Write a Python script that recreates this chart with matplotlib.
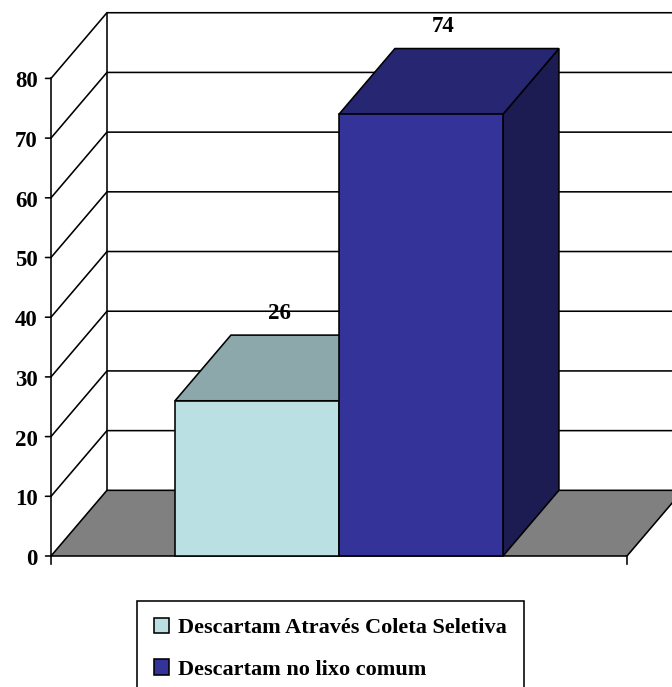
import matplotlib
matplotlib.use("Agg")
import matplotlib.pyplot as plt
from matplotlib.patches import Polygon, Patch
from matplotlib.transforms import offset_copy

plt.rcParams['font.family'] = ['Liberation Serif', 'DejaVu Serif']
plt.rcParams['font.weight'] = 'bold'

series = ['Descartam Através Coleta Seletiva', 'Descartam no lixo comum']
values = [26, 74]
front_colors = ['#BBE0E3', '#333399']
top_colors = ['#8CA8AA', '#262673']
side_colors = ['#70868A', '#1C1C52']
value_ticks = [0, 10, 20, 30, 40, 50, 60, 70, 80]

# one bar is one x unit, one y unit is one percent
bar_w = 1.0
axis_l, axis_r = -1.756, 1.756
dx, dy = 0.341, 11.0
lw = 1.15

fig = plt.figure(figsize=(6.72, 6.87), dpi=100)
ax = fig.add_axes([0, 0, 1, 1])
ax.set_xlim(-339 / 164, 333 / 164)
ax.set_ylim(-131 / 5.97, 556 / 5.97)
ax.axis('off')

vmax = value_ticks[-1]


def poly(pts, fc, z):
    ax.add_patch(Polygon(pts, closed=True, fc=fc, ec='black', lw=lw, zorder=z, joinstyle='miter'))


# walls and gridlines
for v in value_ticks[1:]:
    ax.plot([axis_l, axis_l + dx, axis_r + dx], [v, v + dy, v + dy], color='black', lw=lw, zorder=1)
ax.plot([axis_l + dx, axis_l + dx], [dy, vmax + dy], color='black', lw=lw, zorder=1)

# floor
poly([(axis_l, 0), (axis_r, 0), (axis_r + dx, dy), (axis_l + dx, dy)], '#808080', 2)

# axis with ticks
ax.plot([axis_l, axis_l], [0, vmax], color='black', lw=lw, zorder=3)
for v in value_ticks:
    t = offset_copy(ax.transData, fig=fig, x=-5, y=0, units='dots')
    ax.plot([axis_l, axis_l], [v, v], color='black', lw=lw, zorder=3)
    ax.annotate('', xy=(axis_l, v), xytext=(-4, 0), textcoords='offset points',
                arrowprops=dict(arrowstyle='-', color='black', lw=lw, shrinkA=0, shrinkB=0))
    ax.annotate(str(v), xy=(axis_l, v), xytext=(-9.5, -2.5), textcoords='offset points',
                ha='right', va='center', fontsize=16.5, fontweight='bold')
for x in [axis_l, axis_r]:
    ax.annotate('', xy=(x, 0), xytext=(0, -6), textcoords='offset points',
                arrowprops=dict(arrowstyle='-', color='black', lw=lw, shrinkA=0, shrinkB=0))

# bars
for i, v in enumerate(values):
    x0 = -bar_w + i * bar_w
    x1 = x0 + bar_w
    poly([(x1, 0), (x1 + dx, dy), (x1 + dx, v + dy), (x1, v)], side_colors[i], 4 + i)
    poly([(x0, v), (x1, v), (x1 + dx, v + dy), (x0 + dx, v + dy)], top_colors[i], 4 + i)
    poly([(x0, 0), (x1, 0), (x1, v), (x0, v)], front_colors[i], 4 + i)
    ax.annotate(str(v), xy=(x0 + bar_w / 2 + 0.134, v + dy), xytext=(0, 8), textcoords='offset points',
                ha='center', va='bottom', fontsize=16.5, fontweight='bold', zorder=8)

handles = [Patch(fc=c, ec='black', lw=lw) for c in front_colors]
leg = ax.legend(handles, series, loc='upper left', bbox_to_anchor=(137 / 672, 1 - 601 / 687),
                bbox_transform=fig.transFigure, fontsize=16, frameon=True, fancybox=False,
                edgecolor='black', framealpha=1, borderaxespad=0, borderpad=0.75,
                handlelength=0.7, handleheight=0.7, handletextpad=0.4, labelspacing=0.95)
leg.get_frame().set_linewidth(lw)
leg.set_zorder(10)

fig.savefig('out.png', dpi=100)
